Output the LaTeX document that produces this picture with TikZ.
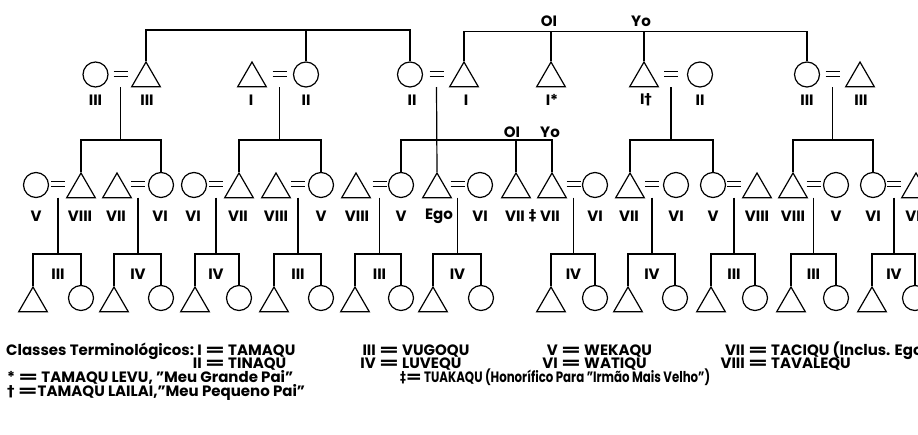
\documentclass[tikz,border=0pt]{standalone}
\usepackage{fontspec}
\usepackage{graphicx}
\setmainfont{Poppins}
\newfontfamily\symf{DejaVu Sans}
\usetikzlibrary{shapes.geometric}
\newcommand\Eq{\scalebox{1.9}[1]{=}}
\newcommand\marr[2]{\draw[eqline] (#1-7,#2-2.5) -- (#1+7,#2-2.5) (#1-7,#2+2.5) -- (#1+7,#2+2.5);}
\tikzset{
  ln/.style={line width=1.2pt},
  eqline/.style={line width=1.2pt},
  tri/.style={draw, line width=1.2pt, regular polygon, regular polygon sides=3, minimum size=33pt, inner sep=0pt},
  circ/.style={draw, line width=1.2pt, circle, minimum size=25pt, inner sep=0pt},
  lab/.style={font=\bfseries\fontsize{15}{15}\selectfont, inner sep=0pt},
  leg/.style={font=\bfseries\fontsize{15}{15}\selectfont, inner sep=0pt, anchor=base west},
  legr/.style={font=\bfseries\fontsize{15}{15}\selectfont, inner sep=0pt, anchor=base east},
}
\begin{document}
\begin{tikzpicture}[x=1pt,y=-1pt]
\useasboundingbox (0,0) rectangle (918,434);
\clip (0,0) rectangle (918,434);
% ---------- Row 1 ----------
\node[circ] (a1) at (95.5,74.5) {};
\node[tri]  (a2) at (146,78.5) {};
\node[tri]  (a3) at (252,78.5) {};
\node[circ] (a4) at (306,74.5) {};
\node[circ] (a5) at (410,74.5) {};
\node[tri]  (a6) at (464,78.5) {};
\node[tri]  (a7) at (551,78.5) {};
\node[tri]  (a8) at (644,78.5) {};
\node[circ] (a9) at (700,74.5) {};
\node[circ] (a10) at (807,74.5) {};
\node[tri]  (a11) at (860,78.5) {};
\foreach \x/\t [count=\i] in {95.5/III,147/III,251/I,306/II,412/II,466/I,552/I*,646/I{\symf†},700/II,807/III,861/III}
  \node[lab] (la\i) at (\x,100) {\t};
\foreach \x in {120.5,279.5,436.5,671,832.5} \marr{\x}{74}
% top bars
\coordinate (dA) at (306,30);
\draw[ln] (a2.north) |- (dA) -| (a5.north);
\draw[ln] (a4.north) -- (dA);
\coordinate (dB) at (551,31.5);
\draw[ln] (a6.north) |- (dB) -| (a10.north);
\draw[ln] (a7.north) -- (dB);
\draw[ln] (a8.north) -- (a8.north |- dB);
\node[lab] (ol1) at (549,21) {OI};
\node[lab] (yo1) at (641,21) {Yo};
% ---------- Row 2 ----------
\node[circ] (b1) at (36,185) {};
\node[tri]  (b2) at (81,189.5) {};
\node[tri]  (b3) at (117,189.5) {};
\node[circ] (b4) at (161,185) {};
\node[circ] (b5) at (194,185) {};
\node[tri]  (b6) at (239,189.5) {};
\node[tri]  (b7) at (276,189.5) {};
\node[circ] (b8) at (321,185) {};
\node[tri]  (b9) at (356,189.5) {};
\node[circ] (b10) at (401,185) {};
\node[tri]  (b11) at (437,189.5) {};
\node[circ] (b12) at (480,185) {};
\node[tri]  (b13) at (516,189.5) {};
\node[tri]  (b14) at (552,189.5) {};
\node[circ] (b15) at (595,185) {};
\node[tri]  (b16) at (630,189.5) {};
\node[circ] (b17) at (676,185) {};
\node[circ] (b18) at (713,185) {};
\node[tri]  (b19) at (757,189.5) {};
\node[tri]  (b20) at (793,189.5) {};
\node[circ] (b21) at (836,185) {};
\node[circ] (b22) at (873,185) {};
\node[tri]  (b23) at (916,189.5) {};
\foreach \x/\t [count=\i] in {36/V,80/VIII,116/VII,160/VI,193/VI,238/VII,276/VIII,321/V,357/VIII,401/V,439/Ego,480/VI,515/VII,550/VII,595/VI,629/VII,676/VI,713/V,757/VIII,793/VIII,836/V,873/VI,913/VI}
  \node[lab] (lb\i) at (\x,216) {\t};
\node[lab] (dd) at (532.5,216) {\symf ‡};
\foreach \x in {58,138,216,298,379.5,457.5,573.5,652,734,813.5,894} \marr{\x}{184}
% descents from row 1
\foreach \x/\n in {120.5/1,279.5/2,436.5/3,671/4,832.5/5}{
  \coordinate (m\n) at (\x,87);
  \coordinate (j\n) at (\x,140);
}
\draw[ln] (m1) -- (j1); \draw[ln] (b2.north) |- (j1) -| (b4.north);
\draw[ln] (m2) -- (j2); \draw[ln] (b6.north) |- (j2) -| (b8.north);
\draw[ln] (m3) -- (b11.north); \draw[ln] (b10.north) |- (j3) -| (b14.north);
\draw[ln] (b13.north) -- (b13.north |- j3);
\draw[ln] (m4) -- (j4); \draw[ln] (b16.north) |- (j4) -| (b18.north);
\draw[ln] (m5) -- (j5); \draw[ln] (b20.north) |- (j5) -| (b22.north);
\node[lab] (ol2) at (512,132) {OI};
\node[lab] (yo2) at (550,132) {Yo};
% ---------- Row 3 ----------
\foreach \tx/\cx/\t/\d [count=\i] in {33/81/III/58,114/161/IV/138,195/239/IV/216,274/321/III/298,355/401/III/379.5,433/481/IV/457.5,551/595/IV/573.5,628/675/IV/652,711/755/III/734,791/836/III/813.5,872/915/IV/894}{
  \node[tri]  (c\i t) at (\tx,303.5) {};
  \node[circ] (c\i c) at (\cx,298) {};
  \coordinate (n\i) at (\d,197.5);
  \coordinate (k\i) at (\d,254);
  \draw[ln] (n\i) -- (k\i);
  \draw[ln] (c\i t.north) |- (k\i) -| (c\i c.north);
  \node[lab] (lc\i) at (\d,274) {\t};
}
% ---------- Legend ----------
\node[leg] (g0) at (6,355) {Classes Terminológicos:};
\node[legr] (g1n) at (202,355) {I};   \node[leg] (g1) at (205,355) {\Eq\ TAMAQU};
\node[legr] (g2n) at (202,368) {II};  \node[leg] (g2) at (205,368) {\Eq\ TINAQU};
\node[legr] (g3n) at (376,355) {III}; \node[leg] (g3) at (379,355) {\Eq\ VUGOQU};
\node[legr] (g4n) at (376,368) {IV};  \node[leg] (g4) at (379,368) {\Eq\ LUVEQU};
\node[legr] (g5n) at (558,355) {V};   \node[leg] (g5) at (561,355) {\Eq\ WEKAQU};
\node[legr] (g6n) at (558,368) {VI};  \node[leg] (g6) at (561,368) {\Eq\ WATIQU};
\node[legr] (g7n) at (745,355) {VII}; \node[leg] (g7) at (748,355) {\Eq\ TACIQU (Inclus. Ego)};
\node[legr] (g8n) at (745,368) {VIII};\node[leg] (g8) at (748,368) {\Eq\ TAVALEQU};
\node[leg] (g9) at (7,382.5) {* \Eq\ TAMAQU LEVU, "Meu Grande Pai"};
\node[leg] (g10) at (400,382.5) {\resizebox{310pt}{\height}{{\symf ‡}\Eq\ TUAKAQU (Honorífico Para "Irmão Mais Velho")}};
\node[leg] (g11) at (7,396) {{\symf †} \Eq TAMAQU LAILAI,"Meu Pequeno Pai"};
\end{tikzpicture}
\end{document}
